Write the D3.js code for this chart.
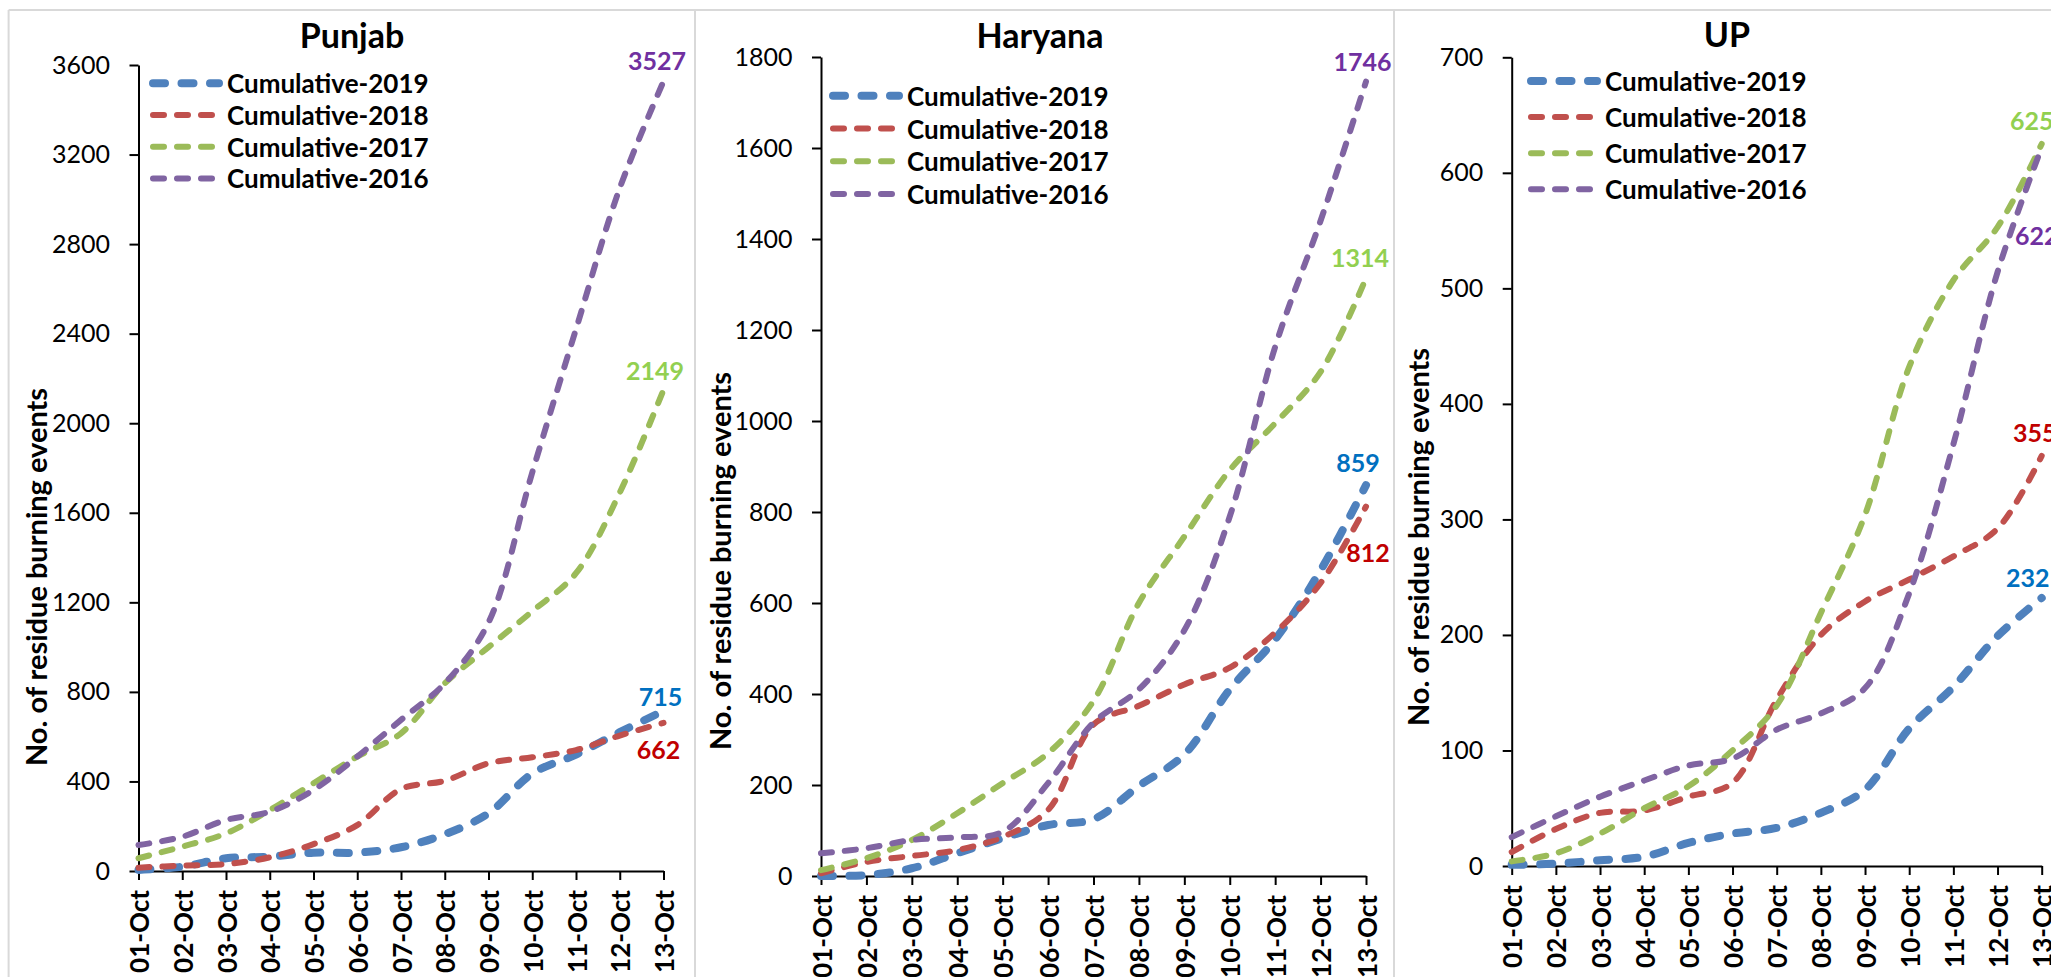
<!DOCTYPE html>
<html>
<head>
<meta charset="utf-8">
<script src="https://cdn.jsdelivr.net/npm/d3@7"></script>
<style>
  html, body { margin: 0; padding: 0; background: #fff; }
  svg { display: block; font-family: Lato, "Open Sans", sans-serif; }
</style>
</head>
<body>
<div id="chart"></div>
<script>
/* ── Data ── */
var dates = ['01-Oct', '02-Oct', '03-Oct', '04-Oct', '05-Oct', '06-Oct', '07-Oct',
             '08-Oct', '09-Oct', '10-Oct', '11-Oct', '12-Oct', '13-Oct'];
var seriesNames = ['Cumulative-2019', 'Cumulative-2018', 'Cumulative-2017', 'Cumulative-2016'];
var states = ['Punjab', 'Haryana', 'UP'];

var punjab2019 = [5, 19, 57, 64, 82, 82, 106, 164, 258, 435, 520, 620, 715];
var punjab2018 = [15, 24, 31, 61, 120, 205, 366, 403, 481, 508, 540, 605, 662];
var punjab2017 = [57, 109, 168, 272, 392, 511, 615, 838, 1000, 1160, 1330, 1690, 2149];
var punjab2016 = [116, 153, 228, 265, 362, 511, 675, 838, 1110, 1780, 2420, 3050, 3527];

var haryana2019 = [0, 2, 17, 50, 83, 112, 125, 198, 267, 410, 520, 672, 859];
var haryana2018 = [6, 31, 44, 57, 86, 145, 333, 374, 421, 458, 535, 644, 812];
var haryana2017 = [13, 39, 79, 138, 204, 270, 385, 600, 746, 892, 995, 1108, 1314];
var haryana2016 = [50, 61, 79, 85, 97, 204, 337, 410, 540, 790, 1163, 1440, 1746];

var up2019 = [1, 2, 5, 8, 20, 28, 33, 46, 66, 119, 155, 199, 232];
var up2018 = [12, 32, 46, 48, 60, 72, 144, 200, 229, 248, 268, 292, 355];
var up2017 = [4, 11, 28, 50, 69, 100, 139, 219, 304, 432, 507, 553, 625];
var up2016 = [25, 43, 60, 74, 87, 93, 118, 132, 154, 236, 365, 514, 622];

var punjabTicks = [0, 400, 800, 1200, 1600, 2000, 2400, 2800, 3200, 3600];
var haryanaTicks = [0, 200, 400, 600, 800, 1000, 1200, 1400, 1600, 1800];
var upTicks = [0, 100, 200, 300, 400, 500, 600, 700];

(function () {
  'use strict';

  var W = 2051, H = 977;

  /* Office-style palette: line colours and the brighter label colours */
  var lineColors = ['#4F81BD', '#C0504D', '#9BBB59', '#8064A2'];
  var labelColors = ['#0070C0', '#C00000', '#92D050', '#7030A0'];
  var lineWidths = [8, 6, 6, 6];
  var lineDashes = ['12 16.5', '11 13', '11 13', '11 13'];

  /* Panel layout: plot box, title, legend, axis title, end-label nudges */
  var panels = [
    {
      series: [punjab2019, punjab2018, punjab2017, punjab2016], ticks: punjabTicks,
      left: 138.5, right: 663.5, top: 65, bottom: 871,
      titleX: 352, titleY: 48,
      legendX: 150, legendY: 83.3, legendStep: 31.7,
      axisTitleX: 35, axisTitleY: 577,
      labelNudge: [[-3, -5], [-5, 36], [-8.5, -9.5], [-6.5, -11]]
    },
    {
      series: [haryana2019, haryana2018, haryana2017, haryana2016], ticks: haryanaTicks,
      left: 821, right: 1366, top: 57, bottom: 876,
      titleX: 1040, titleY: 48,
      legendX: 830, legendY: 95.7, legendStep: 32.8,
      axisTitleX: 719, axisTitleY: 561,
      labelNudge: [[-8, -13], [2, 55], [-6, -11.5], [-3.5, -11]]
    },
    {
      series: [up2019, up2018, up2017, up2016], ticks: upTicks,
      left: 1511.7, right: 2041.7, top: 57.3, bottom: 866,
      titleX: 1727, titleY: 47,
      legendX: 1528, legendY: 81, legendStep: 36.1,
      axisTitleX: 1417, axisTitleY: 537,
      labelNudge: [[-14, -11], [-7, -14], [-10, -14], [-5, 98]]
    }
  ];

  var svg = d3.select('#chart')
    .append('svg')
    .attr('width', W)
    .attr('height', H);

  svg.append('rect').attr('width', W).attr('height', H).attr('fill', '#fff');

  /* ── Chart frames ── */
  var frame = svg.append('g')
    .attr('stroke', '#D9D9D9')
    .attr('stroke-width', 2)
    .attr('fill', 'none');
  frame.append('line').attr('x1', 8.6).attr('x2', W).attr('y1', 10).attr('y2', 10);
  [8.6, 695, 1394].forEach(function (x) {
    frame.append('line').attr('x1', x).attr('x2', x).attr('y1', 10).attr('y2', H);
  });

  panels.forEach(function (p, pi) {
    var g = svg.append('g');

    var x = d3.scalePoint().domain(dates).range([p.left, p.right]);
    var y = d3.scaleLinear()
      .domain([0, p.ticks[p.ticks.length - 1]])
      .range([p.bottom, p.top]);

    /* Title */
    g.append('text')
      .attr('x', p.titleX)
      .attr('y', p.titleY)
      .attr('text-anchor', 'middle')
      .attr('font-size', 34)
      .attr('font-weight', 'bold')
      .attr('fill', '#000')
      .text(states[pi]);

    /* Y axis */
    var yAxis = g.append('g')
      .attr('transform', 'translate(' + p.left + ',0)')
      .call(d3.axisLeft(y)
        .tickValues(p.ticks)
        .tickFormat(d3.format('d'))
        .tickSize(9).tickSizeOuter(0).tickPadding(19.5));
    yAxis.select('.domain').attr('stroke', '#000').attr('stroke-width', 2);
    yAxis.selectAll('.tick line').attr('stroke', '#000').attr('stroke-width', 2);
    yAxis.selectAll('.tick text')
      .attr('font-family', 'Lato, sans-serif')
      .attr('font-size', 25)
      .attr('fill', '#000');

    /* X axis with rotated labels */
    var xAxis = g.append('g')
      .attr('transform', 'translate(0,' + p.bottom + ')')
      .call(d3.axisBottom(x).tickSize(9).tickSizeOuter(0));
    xAxis.select('.domain').attr('stroke', '#000').attr('stroke-width', 2);
    xAxis.selectAll('.tick line').attr('stroke', '#000').attr('stroke-width', 2);
    xAxis.selectAll('.tick text')
      .attr('x', 0).attr('y', 0).attr('dy', null)
      .attr('transform', 'translate(0,19) rotate(-90)')
      .attr('text-anchor', 'end')
      .attr('dominant-baseline', 'central')
      .attr('font-family', 'Lato, sans-serif')
      .attr('font-size', 26)
      .attr('font-weight', 'bold')
      .attr('fill', '#000');

    /* Y axis title */
    g.append('text')
      .attr('transform', 'translate(' + p.axisTitleX + ',' + p.axisTitleY + ') rotate(-90)')
      .attr('text-anchor', 'middle')
      .attr('dominant-baseline', 'central')
      .attr('font-size', 29)
      .attr('font-weight', 'bold')
      .attr('fill', '#000')
      .text('No. of residue burning events');

    /* Lines: 2019 first so 2016 ends up on top */
    var line = d3.line()
      .x(function (d, i) { return x(dates[i]); })
      .y(function (d) { return y(d); })
      .curve(d3.curveCatmullRom.alpha(0.5));

    p.series.forEach(function (vals, si) {
      g.append('path')
        .attr('d', line(vals))
        .attr('fill', 'none')
        .attr('stroke', lineColors[si])
        .attr('stroke-width', lineWidths[si])
        .attr('stroke-dasharray', lineDashes[si])
        .attr('stroke-linecap', 'round');
    });

    /* End-point labels (the UP ones run off the right edge, as in the source) */
    p.series.forEach(function (vals, si) {
      var last = vals[vals.length - 1];
      g.append('text')
        .attr('x', x(dates[dates.length - 1]) + p.labelNudge[si][0])
        .attr('y', y(last) + p.labelNudge[si][1])
        .attr('text-anchor', 'middle')
        .attr('font-size', 25)
        .attr('font-weight', 'bold')
        .attr('fill', labelColors[si])
        .text(last);
    });

    /* Legend */
    var leg = g.append('g');
    seriesNames.forEach(function (name, si) {
      var ly = p.legendY + si * p.legendStep;
      leg.append('line')
        .attr('x1', p.legendX + 3).attr('x2', p.legendX + 69)
        .attr('y1', ly).attr('y2', ly)
        .attr('stroke', lineColors[si])
        .attr('stroke-width', lineWidths[si])
        .attr('stroke-dasharray', lineDashes[si])
        .attr('stroke-linecap', 'round');
      leg.append('text')
        .attr('x', p.legendX + 77)
        .attr('y', ly)
        .attr('dominant-baseline', 'central')
        .attr('font-size', 26)
        .attr('font-weight', 'bold')
        .attr('fill', '#000')
        .text(name);
    });
  });

})();
</script>
</body>
</html>
